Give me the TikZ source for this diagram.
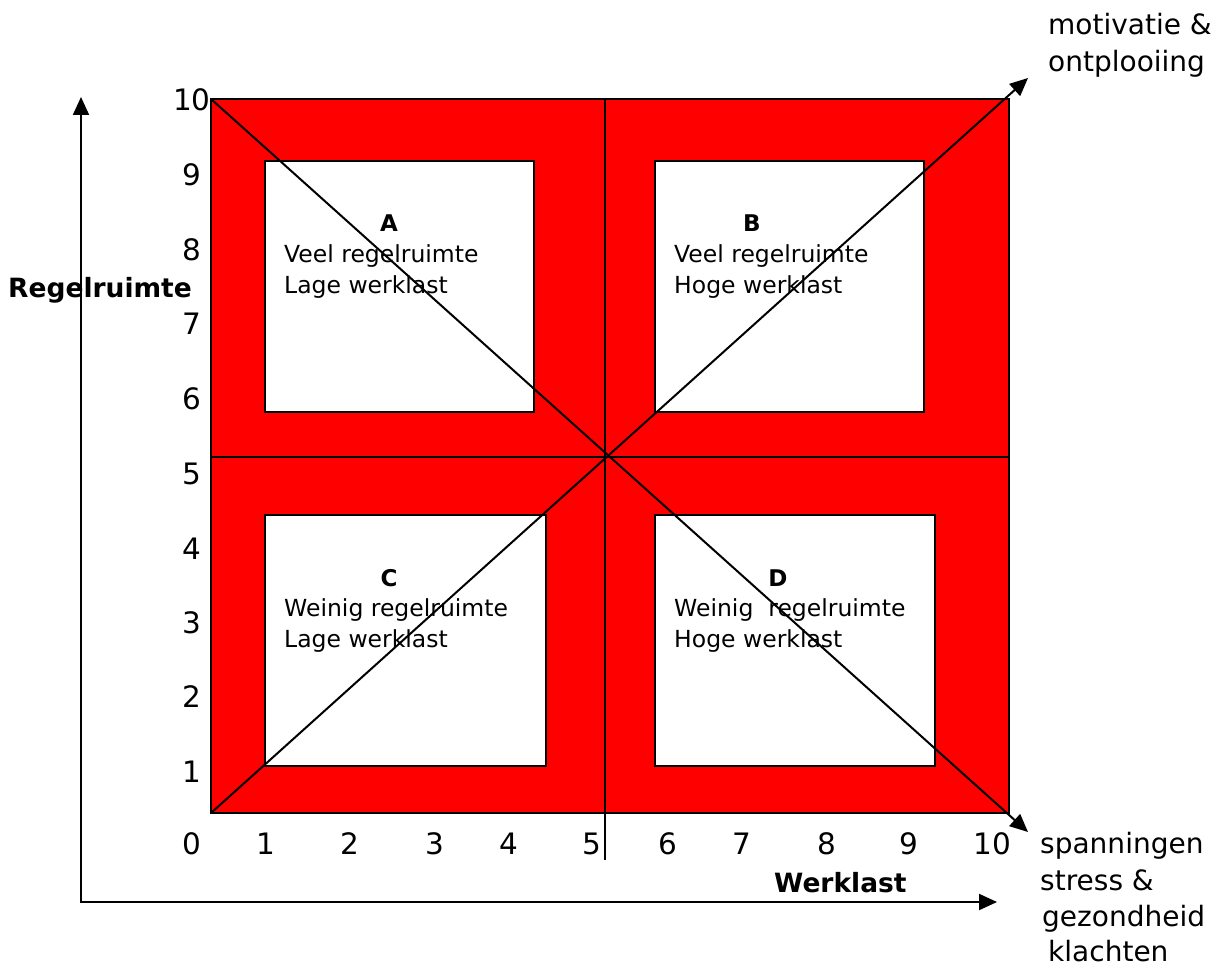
\documentclass[tikz,border=0pt]{standalone}
\usepackage{fontspec}
\setmainfont{DejaVu Sans}
\usetikzlibrary{arrows.meta}
\begin{document}
\begin{tikzpicture}[x=1pt,y=-1pt,
  ln/.style={line width=1.9pt},
  redfill/.style={fill={rgb,255:red,255;green,0;blue,0},draw=black,line width=1.9pt},
  wbox/.style={fill=white,draw=black,line width=1.9pt},
  arr/.style={line width=2pt,-{Triangle[length=18pt,width=16pt]}},
  num/.style={inner sep=0pt,font=\fontsize{29.5}{34}\selectfont},
  txt/.style={inner sep=0pt,anchor=base west,font=\fontsize{23.5}{28}\selectfont},
  lbl/.style={inner sep=0pt,anchor=base,font=\fontsize{23}{27}\selectfont\bfseries},
  side/.style={inner sep=0pt,anchor=base west,font=\fontsize{28}{32}\selectfont},
  axl/.style={inner sep=0pt,anchor=base west,font=\fontsize{26.5}{31}\selectfont\bfseries}]
\useasboundingbox (0,0) rectangle (1220,968);
% red square
\draw[redfill] (211,99) rectangle (1009,813);
% white boxes
\draw[wbox] (265,161) rectangle (534,412);
\draw[wbox] (655,161) rectangle (924,412);
\draw[wbox] (265,515) rectangle (546,766);
\draw[wbox] (655,515) rectangle (935,766);
% dividers
\coordinate (vt) at (605,99);
\coordinate (vb) at (605,860);
\coordinate (hl) at (211,457);
\coordinate (hr) at (1009,457);
\draw[ln] (vt) -- (vb);
\draw[ln] (hl) -- (hr);
% diagonals
\coordinate (tl) at (211,99);
\coordinate (bl) at (211,813);
\coordinate (tipUp) at (1028,78);
\coordinate (tipDown) at (1028,832);
\draw[arr] (tl) -- (tipDown);
\draw[arr] (bl) -- (tipUp);
% axes
\coordinate (ytop) at (81,97);
\coordinate (orig) at (81,902);
\coordinate (xend) at (997,902);
\draw[line width=2pt,{Triangle[length=18pt,width=16pt]}-{Triangle[length=18pt,width=16pt]}] (ytop) -- (orig) -- (xend);
% y numbers
\node[num] (y10) at (192,100) {10};
\node[num] (y9) at (192,175) {9};
\node[num] (y8) at (192,250) {8};
\node[num] (y7) at (192,324) {7};
\node[num] (y6) at (192,399) {6};
\node[num] (y5) at (192,474) {5};
\node[num] (y4) at (192,549) {4};
\node[num] (y3) at (192,623) {3};
\node[num] (y2) at (192,697) {2};
\node[num] (y1) at (192,772) {1};
% x numbers
\node[num] (x0) at (192,844) {0};
\node[num] (x1) at (266,844) {1};
\node[num] (x2) at (350,844) {2};
\node[num] (x3) at (435,844) {3};
\node[num] (x4) at (509,844) {4};
\node[num] (x5) at (592,844) {5};
\node[num] (x6) at (668,844) {6};
\node[num] (x7) at (742,844) {7};
\node[num] (x8) at (827,844) {8};
\node[num] (x9) at (909,844) {9};
\node[num] (x10) at (992,844) {10};
% axis labels
\node[axl] (ylab) at (8,297) {Regelruimte};
\node[axl] (xlab) at (774,892) {Werklast};
% box texts
\node[lbl] (la) at (389,232) {A};
\node[txt] (a1) at (284,262) {Veel regelruimte};
\node[txt] (a2) at (284,293) {Lage werklast};
\node[lbl] (lb) at (752,232) {B};
\node[txt] (b1) at (674,262) {Veel regelruimte};
\node[txt] (b2) at (674,293) {Hoge werklast};
\node[lbl] (lc) at (389,586) {C};
\node[txt] (c1) at (284,616) {Weinig regelruimte};
\node[txt] (c2) at (284,647) {Lage werklast};
\node[lbl] (ld) at (778,586) {D};
\node[txt] (d1) at (674,616) {Weinig\ \ regelruimte};
\node[txt] (d2) at (674,647) {Hoge werklast};
% side labels
\node[side] (m1) at (1048,35) {motivatie \&};
\node[side] (m2) at (1048,72) {ontplooiing};
\node[side] (s1) at (1040,853) {spanningen};
\node[side] (s2) at (1040,890) {stress \&};
\node[side] (s3) at (1042,926) {gezondheid};
\node[side] (s4) at (1048,961) {klachten};
\end{tikzpicture}
\end{document}
